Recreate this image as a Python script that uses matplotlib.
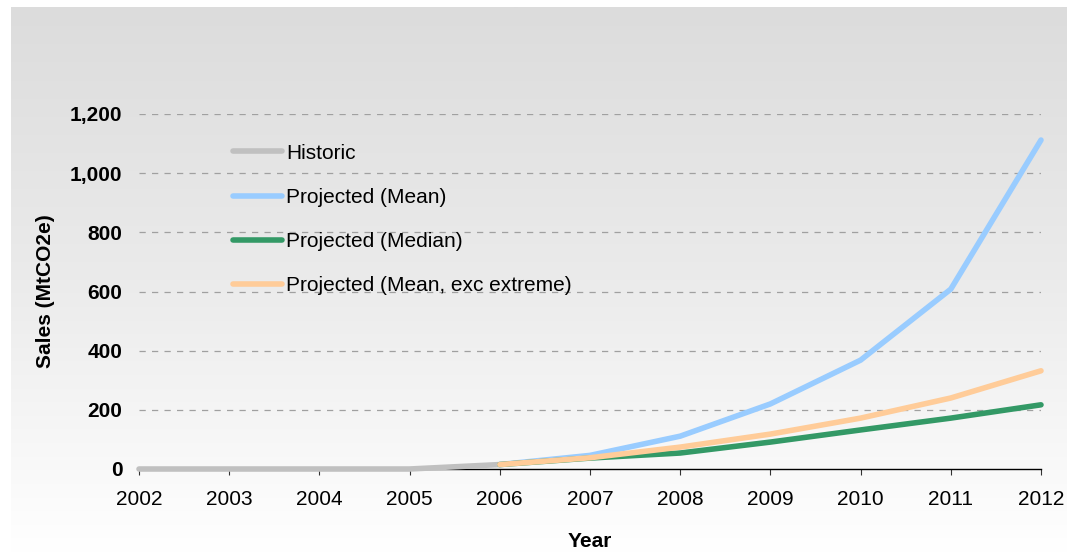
import numpy as np
import matplotlib
matplotlib.use("Agg")
import matplotlib.pyplot as plt
from matplotlib.ticker import FuncFormatter

plt.rcParams['font.family'] = ['Liberation Sans', 'DejaVu Sans']

# data
hist_years = [2002, 2003, 2004, 2005, 2006]
hist_values = [0, 0, 0, 0, 15]

proj_years = [2006, 2007, 2008, 2009, 2010, 2011, 2012]
proj_mean = [15, 46, 111, 220, 368, 608, 1112]
proj_median = [15, 37, 54, 91, 132, 172, 217]
proj_mean_exc = [15, 38, 74, 118, 172, 240, 332]

year_ticks = list(range(2002, 2013))
value_ticks = [0, 200, 400, 600, 800, 1000, 1200]

W, H = 1077, 553
fig = plt.figure(figsize=(W / 100, H / 100), dpi=100)

# gradient panel behind the chart
bg = fig.add_axes([11 / W, 0, (1067 - 11) / W, (553 - 7) / H], zorder=-10)
grad = np.linspace(0, 1, 256).reshape(-1, 1)
bg.imshow(grad, aspect="auto", cmap=matplotlib.colors.LinearSegmentedColormap.from_list(
    "bg", ["#dcdcdc", "#ebebeb", "#ffffff"]), extent=[0, 1, 0, 1], origin="upper")
bg.axis("off")

ax = fig.add_axes([139 / W, 1 - 469 / H, (1041 - 139) / W, (469 - 114) / H])
ax.patch.set_alpha(0)

lw = 4.0
ax.plot(hist_years, hist_values, color="#c0c0c0", lw=lw, solid_capstyle="round",
        clip_on=False, zorder=3, label="Historic")
ax.plot(proj_years, proj_mean, color="#99ccff", lw=lw, solid_capstyle="round",
        clip_on=False, zorder=3, label="Projected (Mean)")
ax.plot(proj_years, proj_median, color="#339966", lw=lw, solid_capstyle="round",
        clip_on=False, zorder=3, label="Projected (Median)")
ax.plot(proj_years, proj_mean_exc, color="#ffcc99", lw=lw, solid_capstyle="round",
        clip_on=False, zorder=3, label="Projected (Mean, exc extreme)")

ax.set_xlim(2002, 2012)
ax.set_ylim(0, 1200)
ax.set_xticks(year_ticks)
ax.set_yticks(value_ticks)
ax.yaxis.set_major_formatter(FuncFormatter(lambda v, p: f"{int(v):,}"))

for s in ["left", "right", "top"]:
    ax.spines[s].set_visible(False)
ax.spines["bottom"].set_color("black")
ax.spines["bottom"].set_linewidth(1.0)

ax.tick_params(axis="x", direction="out", length=4, width=0.8, color="#333333",
               pad=11, labelsize=15)
ax.tick_params(axis="y", length=0, pad=12, labelsize=15)
for lbl in ax.get_yticklabels():
    lbl.set_fontweight("bold")

for v in value_ticks[1:]:
    ax.axhline(v, color="#a0a0a0", lw=0.9, ls=(0, (5, 5)), zorder=1)

ax.set_xlabel("Year", fontsize=15, fontweight="bold", labelpad=17)
ax.set_ylabel("Sales (MtCO2e)", fontsize=15, fontweight="bold", labelpad=11)

ax.legend(loc="upper left", bbox_to_anchor=(214 / W, 1 - 125 / H),
          bbox_transform=fig.transFigure, frameon=False, fontsize=15,
          handlelength=2.35, handletextpad=0.2, labelspacing=1.21)

fig.savefig("out.png", dpi=100)
